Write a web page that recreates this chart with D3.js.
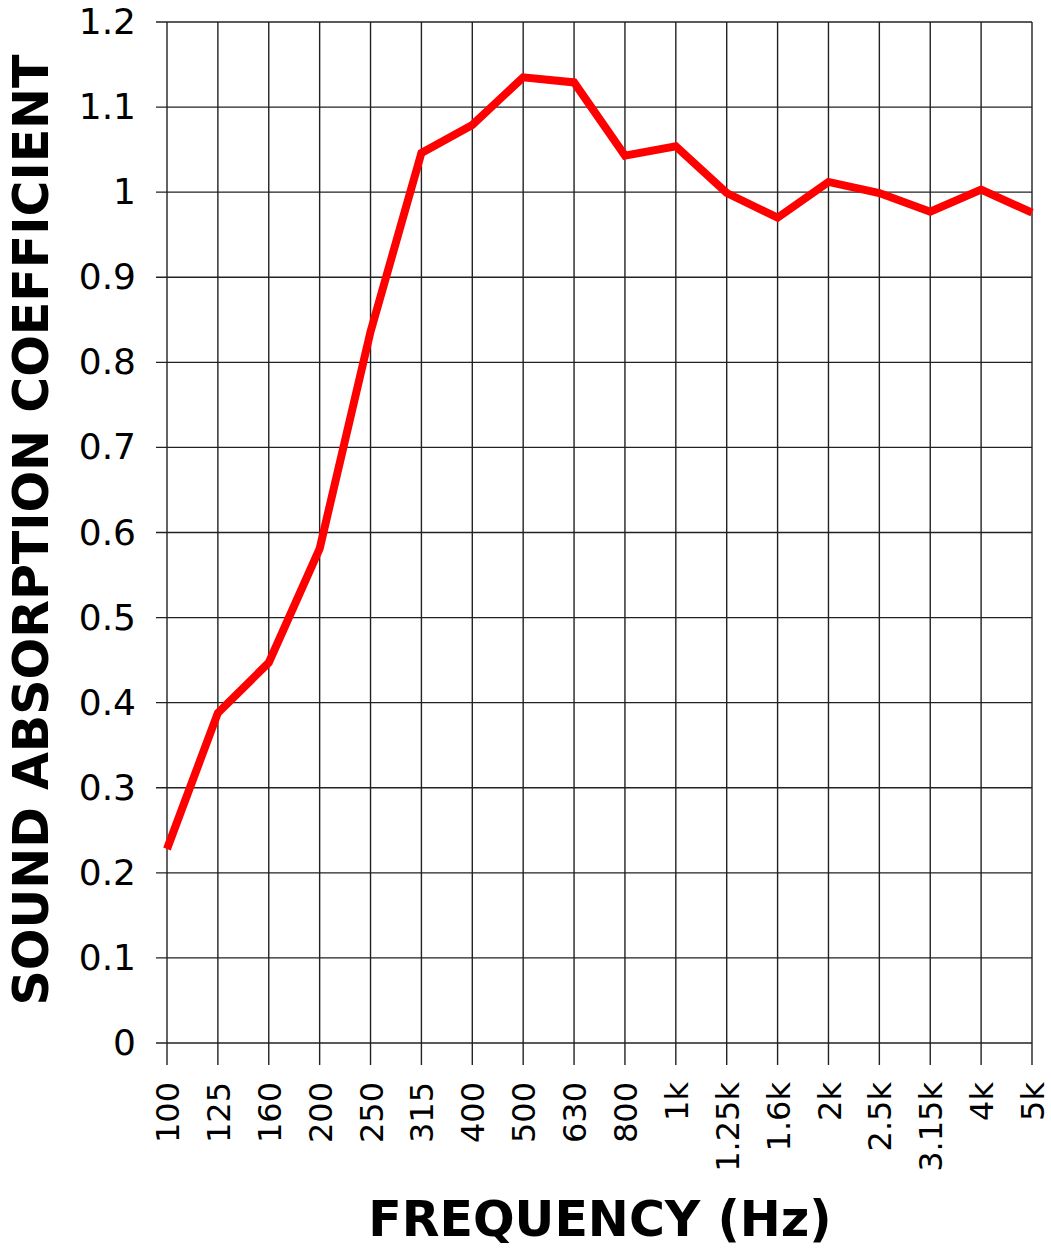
<!DOCTYPE html>
<html>
<head>
<meta charset="utf-8">
<script src="https://cdn.jsdelivr.net/npm/d3@7"></script>
<style>
  body { margin: 0; background: #fff; }
  text { font-family: "DejaVu Sans", Verdana, sans-serif; }
</style>
</head>
<body>
<div id="grafica"></div>
<script>
// data
var freqLabels = ["100", "125", "160", "200", "250", "315", "400", "500", "630", "800",
                  "1k", "1.25k", "1.6k", "2k", "2.5k", "3.15k", "4k", "5k"];
var absorption = [0.228, 0.388, 0.447, 0.581, 0.836, 1.046, 1.079, 1.135, 1.129, 1.043,
                  1.054, 0.999, 0.970, 1.012, 0.999, 0.977, 1.003, 0.976];
var yTicks = [0, 0.1, 0.2, 0.3, 0.4, 0.5, 0.6, 0.7, 0.8, 0.9, 1, 1.1, 1.2];

// set the dimensions and margins of the graph
var margin = {top: 22, right: 19, bottom: 215, left: 167},
    width = 1051 - margin.left - margin.right,
    height = 1258 - margin.top - margin.bottom;

var svg = d3.select("#grafica")
  .append("svg")
  .attr("width", width + margin.left + margin.right)
  .attr("height", height + margin.top + margin.bottom)
  .append("g")
  .attr("transform", `translate(${margin.left},${margin.top})`);

var x = d3.scalePoint()
  .domain(freqLabels)
  .range([0, width]);

var y = d3.scaleLinear()
  .domain([0, 1.2])
  .range([height, 0]);

// grid lines
svg.append("g")
  .selectAll("line.h")
  .data(yTicks)
  .join("line")
    .attr("x1", -11)
    .attr("x2", width)
    .attr("y1", d => y(d))
    .attr("y2", d => y(d))
    .attr("stroke", "#222")
    .attr("stroke-width", 1.4);

svg.append("g")
  .selectAll("line.v")
  .data(freqLabels)
  .join("line")
    .attr("x1", d => x(d))
    .attr("x2", d => x(d))
    .attr("y1", 0)
    .attr("y2", height + 22)
    .attr("stroke", "#222")
    .attr("stroke-width", 1.4);

// Y axis labels
var yAxis = svg.append("g")
  .call(d3.axisLeft(y).tickValues(yTicks).tickSize(11).tickPadding(20)
    .tickFormat(d => String(Math.round(d * 10) / 10)));
yAxis.select(".domain").remove();
yAxis.selectAll("line").remove();
yAxis.selectAll("text")
  .attr("fill", "#000")
  .style("font-size", "36px");

// X axis labels
var xAxis = svg.append("g")
  .attr("transform", `translate(0, ${height})`)
  .call(d3.axisBottom(x).tickSize(22).tickPadding(17));
xAxis.select(".domain").remove();
xAxis.selectAll("line").remove();
xAxis.selectAll("text")
  .attr("fill", "#000")
  .style("font-size", "32px")
  .style("text-anchor", "end")
  .attr("transform", "rotate(-90)")
  .attr("x", -39)
  .attr("y", 0)
  .attr("dy", "0.36em");

// the line
svg.append("path")
  .datum(absorption)
  .attr("fill", "none")
  .attr("stroke", "#ff0000")
  .attr("stroke-width", 8)
  .attr("stroke-linejoin", "miter")
  .attr("d", d3.line()
    .x((d, i) => x(freqLabels[i]))
    .y(d => y(d)));

// axis titles
svg.append("text")
  .attr("x", 600 - margin.left)
  .attr("y", height + 193)
  .style("text-anchor", "middle")
  .style("font-size", "49px")
  .style("font-weight", "bold")
  .text("FREQUENCY (Hz)");

svg.append("text")
  .attr("transform", "rotate(-90)")
  .attr("x", -(530 - margin.top))
  .attr("y", 48 - margin.left)
  .style("text-anchor", "middle")
  .style("font-size", "49px")
  .style("font-weight", "bold")
  .text("SOUND ABSORPTION COEFFICIENT");
</script>
</body>
</html>
